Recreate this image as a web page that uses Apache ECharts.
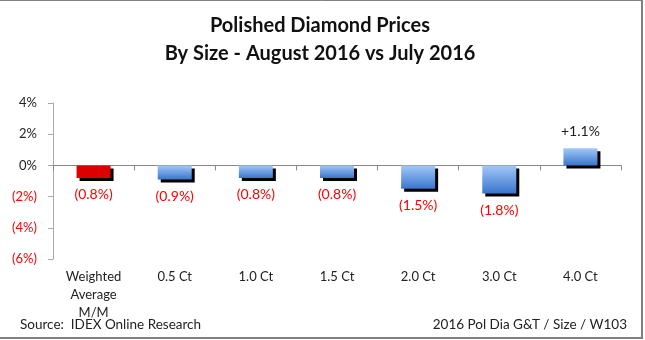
<!DOCTYPE html>
<html>
<head>
<meta charset="utf-8">
<script src="https://cdn.jsdelivr.net/npm/echarts@6/dist/echarts.min.js"></script>
<style>html,body{margin:0;padding:0;background:#fff;}#c{width:645px;height:340px;}</style>
</head>
<body>
<div id="c"></div>
<script>
var categories = ['Weighted\nAverage\nM/M', '0.5 Ct', '1.0 Ct', '1.5 Ct', '2.0 Ct', '3.0 Ct', '4.0 Ct'];
var values = [-0.8, -0.9, -0.8, -0.8, -1.5, -1.8, 1.1];
var yTicks = [-6, -4, -2, 0, 2, 4];
var titleLines = ['Polished Diamond Prices', 'By Size - August 2016 vs July 2016'];
var sourceText = 'Source:  IDEX Online Research';
var refText = '2016 Pol Dia G&T / Size / W103';

var FONT = 'Lato';
var blueGrad = new echarts.graphic.LinearGradient(0, 0, 0, 1, [
  {offset: 0, color: '#a3c8f8'},
  {offset: 1, color: '#3a76cc'}
]);

function fmtPct(v) {
  return v < 0 ? '(' + Math.abs(v).toFixed(1) + '%)' : '+' + v.toFixed(1) + '%';
}

var data = values.map(function (v, i) {
  return {
    value: v,
    itemStyle: {
      color: i === 0 ? '#dd0000' : blueGrad,
      shadowColor: '#000',
      shadowBlur: 0,
      shadowOffsetX: 3,
      shadowOffsetY: 3
    },
    label: {
      show: true,
      position: v < 0 ? 'bottom' : 'top',
      distance: v < 0 ? 10 : 10,
      color: v < 0 ? '#ff0000' : '#222',
      fontSize: 14,
      fontFamily: FONT,
      formatter: fmtPct(v)
    }
  };
});

var chart = echarts.init(document.getElementById('c'), null, {renderer: 'canvas'});
chart.setOption({
  animation: false,
  backgroundColor: '#fff',
  grid: {left: 53, right: 24, top: 103, bottom: 81, containLabel: false},
  xAxis: [{
    type: 'category',
    data: categories,
    axisLine: {onZero: true, lineStyle: {color: '#888', width: 1}},
    axisTick: {show: true, length: 5, lineStyle: {color: '#888'}},
    axisLabel: {show: false}
  }, {
    type: 'category',
    data: categories,
    position: 'bottom',
    axisLine: {show: false, onZero: false},
    axisTick: {show: false},
    axisLabel: {show: true, margin: 9, fontSize: 13, lineHeight: 18, color: '#222', fontFamily: FONT, interval: 0}
  }],
  yAxis: {
    type: 'value',
    min: yTicks[0],
    max: yTicks[yTicks.length - 1],
    interval: 2,
    axisLine: {show: true, lineStyle: {color: '#aaa', width: 1}},
    axisTick: {show: true, length: 5, lineStyle: {color: '#aaa'}},
    splitLine: {show: false},
    axisLabel: {
      margin: 16,
      fontSize: 13,
      fontFamily: FONT,
      formatter: function (v) { return v < 0 ? '(' + Math.abs(v) + '%)' : v + '%'; },
      color: function (v) { return Number(v) < 0 ? '#ff0000' : '#222'; }
    }
  },
  series: [{
    type: 'bar',
    xAxisIndex: 0,
    barWidth: 34,
    data: data
  }],
  graphic: [
    {type: 'text', style: {
      text: titleLines[0], x: 320, y: 26, align: 'center', verticalAlign: 'middle',
      font: 'bold 20px ' + FONT, fill: '#111'}},
    {type: 'text', style: {
      text: titleLines[1], x: 320, y: 54, align: 'center', verticalAlign: 'middle',
      font: 'bold 20px ' + FONT, fill: '#111'}},
    {type: 'text', style: {
      text: sourceText, x: 20, y: 325, align: 'left', verticalAlign: 'middle',
      font: '13.5px ' + FONT, fill: '#222'}},
    {type: 'text', style: {
      text: refText, x: 627, y: 325, align: 'right', verticalAlign: 'middle',
      font: '13.5px ' + FONT, fill: '#222'}},
    {type: 'line', shape: {x1: 0, y1: 0.5, x2: 643, y2: 0.5}, style: {stroke: '#808080', lineWidth: 1}},
    {type: 'line', shape: {x1: 642, y1: 0, x2: 642, y2: 339}, style: {stroke: '#808080', lineWidth: 2}},
    {type: 'line', shape: {x1: 0, y1: 338, x2: 643, y2: 338}, style: {stroke: '#808080', lineWidth: 2}}
  ]
});
</script>
</body>
</html>
